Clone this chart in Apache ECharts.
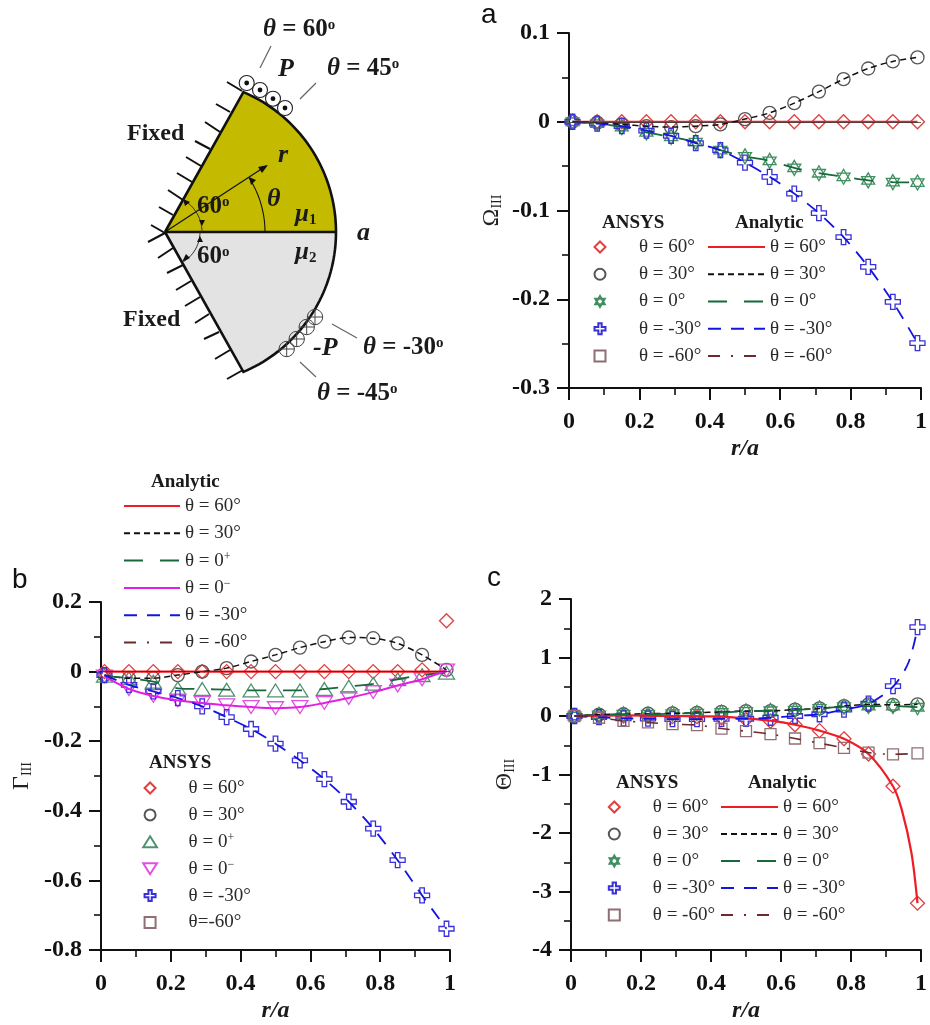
<!DOCTYPE html>
<html><head><meta charset="utf-8">
<style>html,body{margin:0;padding:0;background:#fff}#c{width:930px;height:1025px}</style>
<script src="https://cdn.jsdelivr.net/npm/echarts@6/dist/echarts.min.js"></script>
</head><body><div id="c"></div>
<script>
// ---------- data ----------
const rOverA = [0.01,0.08,0.15,0.22,0.29,0.36,0.43,0.5,0.57,0.64,0.71,0.78,0.85,0.92,0.99];

const omega60  = [0,0,0,0,0,0,0,0,0,0,0,0,0,0,0];
const omega30  = [0,-0.001,-0.003,-0.005,-0.006,-0.005,-0.003,0.003,0.010,0.021,0.034,0.048,0.060,0.068,0.0725];
const omega0   = [0,-0.002,-0.006,-0.012,-0.017,-0.023,-0.032,-0.039,-0.044,-0.052,-0.058,-0.062,-0.066,-0.068,-0.0685];
const omegaM30 = [0,-0.002,-0.005,-0.010,-0.016,-0.024,-0.032,-0.046,-0.062,-0.081,-0.103,-0.130,-0.1635,-0.203,-0.2494];
const omegaM60 = [];

const gamma60      = [0,0,0,0,0,0,0,0,0,0,0,0,0,0.005,0.146];
const gamma60Line  = [0,0,0,0,0,0,0,0,0,0,0,0,0,0,0];
const gamma30      = [-0.01,-0.019,-0.019,-0.01,0,0.01,0.029,0.048,0.069,0.086,0.098,0.096,0.081,0.048,0.005];
const gamma0p      = [-0.012,-0.019,-0.029,-0.048,-0.05,-0.052,-0.054,-0.054,-0.054,-0.05,-0.043,-0.035,-0.022,-0.01,-0.003];
const gamma0m      = [-0.014,-0.05,-0.07,-0.083,-0.09,-0.097,-0.102,-0.105,-0.102,-0.09,-0.076,-0.059,-0.04,-0.022,0.003];
const gammaM30     = [-0.01,-0.038,-0.057,-0.076,-0.1,-0.131,-0.165,-0.207,-0.255,-0.309,-0.374,-0.451,-0.542,-0.643,-0.739];
const gammaM60     = [];

const theta60   = [0,0,0,0,-0.01,-0.01,-0.03,-0.06,-0.09,-0.15,-0.25,-0.39,-0.65,-1.2,-3.2];
const theta30   = [0,0.025,0.03,0.04,0.045,0.055,0.07,0.085,0.085,0.11,0.13,0.17,0.2,0.19,0.2];
const theta0    = [0,0.02,0.03,0.03,0.04,0.05,0.06,0.08,0.09,0.1,0.13,0.16,0.17,0.17,0.15];
const thetaM30  = [0,-0.02,-0.04,-0.045,-0.055,-0.055,-0.05,-0.05,-0.03,0,0.03,0.11,0.21,0.51,1.52];
const thetaM60  = [0,-0.03,-0.085,-0.11,-0.14,-0.155,-0.215,-0.26,-0.31,-0.385,-0.465,-0.545,-0.625,-0.655,-0.64];
const rTheta60Line  = [0.01,0.15,0.29,0.43,0.5,0.57,0.64,0.71,0.78,0.85,0.92,0.945,0.973,0.99];
const theta60Line   = [0,0.01,0,-0.01,-0.04,-0.08,-0.15,-0.25,-0.39,-0.65,-1.2,-1.6,-2.35,-3.2];
const rThetaM30Line = [0.01,0.08,0.15,0.22,0.29,0.36,0.43,0.5,0.57,0.64,0.71,0.78,0.85,0.92,0.964,0.99];
const thetaM30Line  = [0,-0.02,-0.04,-0.045,-0.055,-0.055,-0.05,-0.05,-0.03,0,0.03,0.11,0.21,0.5,0.91,1.5];

// ---------- styles ----------
const SERIF = '"Liberation Serif"';
const SYM = {
  diamond:'path://M10 0L20 10L10 20L0 10Z',
  circle:'path://M20 10A10 10 0 1 1 0 10A10 10 0 1 1 20 10Z',
  star:'path://M10 0L18.66 15L1.34 15Z M10 20L1.34 5L18.66 5Z',
  plus:'path://M7 0H13V7H20V13H13V20H7V13H0V7H7Z',
  square:'path://M0 0H20V20H0Z',
  tri:'path://M10 0L20 16H0Z',
  itri:'path://M0 0H20L10 16Z'
};
const MARK = {
  t60:{sym:SYM.diamond,size:14,color:'#e04040'},
  t30:{sym:SYM.circle,size:13,color:'#555555'},
  t0:{sym:SYM.star,size:15,color:'#3f8f60'},
  t0p:{sym:SYM.tri,size:16,color:'#4f9270'},
  t0m:{sym:SYM.itri,size:16,color:'#e24fe2'},
  tm30:{sym:SYM.plus,size:15,color:'#3a30d8'},
  tm60:{sym:SYM.square,size:11,color:'#8f6f74'}
};
const LINE = {
  t60:{color:'#ee1c25',type:'solid',width:2.2},
  t30:{color:'#111111',type:[6,4],width:1.5},
  t0:{color:'#17693c',type:[19,17],width:1.8},
  t0p:{color:'#17693c',type:[19,17],width:1.8},
  t0m:{color:'#e51ee5',type:'solid',width:2},
  tm30:{color:'#1414e0',type:[13,10],width:1.8},
  tm60:{color:'#6d2a2e',type:[12,11,2,11],width:1.6}
};
const LABEL = {t60:'θ = 60°',t30:'θ = 30°',t0:'θ = 0°',t0p:'θ = 0{s|+}',t0m:'θ = 0{s|−}',tm30:'θ = -30°',tm60:'θ = -60°'};

const grids = [
  {left:569,top:33,width:356,height:355},
  {left:101,top:602,width:349,height:348},
  {left:571,top:599,width:352,height:351}
];
const yAxes = [
  {min:-0.3,max:0.1,interval:0.1,nameGap:65,name:'{a|Ω}{b|III}'},
  {min:-0.8,max:0.2,interval:0.2,nameGap:67,name:'{a|Γ}{b|III}'},
  {min:-4,max:2,interval:1,nameGap:54,name:'{a|Θ}{b|III}'}
];

const series = [];
const legendNames = {};
const zip = (xs,ys)=>ys.map((y,i)=>[xs[i],y]);
function marks(p,key,values,labelOverride){
  const m = MARK[key], name = 'm'+p+key;
  legendNames[name] = labelOverride || LABEL[key];
  series.push({type:'scatter',name,xAxisIndex:p,yAxisIndex:p,symbol:m.sym,symbolSize:m.size,symbolKeepAspect:true,clip:false,
    itemStyle:{color:'transparent',borderColor:m.color,borderWidth:1.3,opacity:1},
    data:zip(rOverA,values)});
  return name;
}
function line(p,key,xs,values,extra){
  const l = LINE[key], name = 'l'+p+key;
  legendNames[name] = LABEL[key];
  series.push(Object.assign({type:'line',name,xAxisIndex:p,yAxisIndex:p,symbol:'none',showSymbol:false,smooth:0.3,clip:false,
    itemStyle:{color:l.color},lineStyle:{color:l.color,type:l.type,width:l.width},data:zip(xs,values)},extra||{}));
  return name;
}
const zeroLine = {markLine:{silent:true,symbol:'none',animation:false,label:{show:false},lineStyle:{color:'#333',width:0.8,type:'solid'},data:[{yAxis:0}]}};

// panel a
const aM = [marks(0,'t60',omega60),marks(0,'t30',omega30),marks(0,'t0',omega0),marks(0,'tm30',omegaM30),marks(0,'tm60',omegaM60)];
const aL = [line(0,'t60',rOverA,omega60,zeroLine),line(0,'t30',rOverA,omega30),line(0,'t0',rOverA,omega0),line(0,'tm30',rOverA,omegaM30),line(0,'tm60',rOverA,omegaM60)];
// panel b
const bM = [marks(1,'t60',gamma60),marks(1,'t30',gamma30),marks(1,'t0p',gamma0p),marks(1,'t0m',gamma0m),marks(1,'tm30',gammaM30),marks(1,'tm60',gammaM60,'θ=-60°')];
const bL = [line(1,'t60',rOverA,gamma60Line,zeroLine),line(1,'t30',rOverA,gamma30),line(1,'t0p',rOverA,gamma0p),line(1,'t0m',rOverA,gamma0m),line(1,'tm30',rOverA,gammaM30),line(1,'tm60',rOverA,gammaM60)];
// panel c
const cM = [marks(2,'t60',theta60),marks(2,'t30',theta30),marks(2,'t0',theta0),marks(2,'tm30',thetaM30),marks(2,'tm60',thetaM60)];
const cL = [line(2,'t60',rTheta60Line,theta60Line),line(2,'t30',rOverA,theta30),line(2,'t0',rOverA,theta0),line(2,'tm30',rThetaM30Line,thetaM30Line),line(2,'tm60',rOverA,thetaM60)];

function legend(names,left,top,itemWidth,itemGap,isLine){
  return {left,top,orient:'vertical',padding:0,itemWidth,itemHeight:isLine?14:11,itemGap,selectedMode:false,data:names,
    formatter:n=>legendNames[n],
    itemStyle:isLine?{opacity:0}:{},
    textStyle:{fontFamily:SERIF,fontSize:19,color:'#2a2a2a',lineHeight:20,rich:{s:{fontFamily:SERIF,fontSize:12,color:'#2a2a2a',verticalAlign:'top',lineHeight:20}}}};
}
const legends = [
  legend(aM,593.5,237,68,7.25,false),
  legend(aL,707,237,57,7.25,true),
  legend(bL,123,496,56,7.3,true),
  legend(bM,142.2,778,67,6.9,false),
  legend(cM,607.8,797,67,7,false),
  legend(cL,720,797,57,7,true)
];

// ---------- schematic and annotations ----------
const wallTicks = [
  [227,82,242,91],[216,104,230,112],[205,122,220,132],[195,141,210,149],[186,157,201,166],[177,173,192,182],[168,190,183,200],[159,207,173,215],[151,225,165,233],
  [148,242,165,233],[158,258,173,248],[167,273,183,265],[176,290,191,281],[185,306,200,297],[195,323,209,314],[204,339,219,332],[215,359,230,350],[227,379,243,370]
];
const leaders = [[271,46,260,68],[316,83,300,99],[332,324,357,338],[300,362,316,377]];
const dotCircles = [[246.7,83],[260,90],[273,98.7],[285,108]];
const crossCircles = [[286.7,349],[296.7,339],[306.7,327],[315,317]];

const g = [];
const seg = (c,stroke,w)=>({type:'line',shape:{x1:c[0],y1:c[1],x2:c[2],y2:c[3]},style:{stroke,lineWidth:w}});
// arc outline points of the schematic edge (angles in degrees, y up)
function arcPts(cx,cy,r,a0,a1,n){
  const out=[];
  for(let i=0;i<=n;i++){const a=(a0+(a1-a0)*i/n)*Math.PI/180;out.push([cx+r*Math.cos(a),cy-r*Math.sin(a)]);}
  return out;
}
const EDGE_CX=184, EDGE_CY=232, EDGE_R=152, EDGE_A=67;
const apex=[165,232];
g.push({type:'polygon',shape:{points:[apex].concat(arcPts(EDGE_CX,EDGE_CY,EDGE_R,EDGE_A,0,40))},style:{fill:'#c4bb00'}});
g.push({type:'polygon',shape:{points:[apex].concat(arcPts(EDGE_CX,EDGE_CY,EDGE_R,0,-EDGE_A,40))},style:{fill:'#e3e3e3'}});
g.push({type:'polyline',shape:{points:[apex].concat(arcPts(EDGE_CX,EDGE_CY,EDGE_R,EDGE_A,-EDGE_A,80)).concat([apex])},style:{fill:null,stroke:'#111',lineWidth:2.6}});
g.push(seg([165,232,336,232],'#111',2.4));
wallTicks.forEach(t=>g.push(seg(t,'#111',2)));
leaders.forEach(t=>g.push(seg(t,'#666',1.2)));
dotCircles.forEach(c=>{
  g.push({type:'circle',shape:{cx:c[0],cy:c[1],r:7.5},style:{fill:'#fff',stroke:'#222',lineWidth:1.1}});
  g.push({type:'circle',shape:{cx:c[0],cy:c[1],r:2.4},style:{fill:'#111'}});
});
crossCircles.forEach(c=>{
  g.push({type:'circle',shape:{cx:c[0],cy:c[1],r:7.7},style:{fill:'none',stroke:'#444',lineWidth:1}});
  g.push(seg([c[0]-7.7,c[1],c[0]+7.7,c[1]],'#444',1));
  g.push(seg([c[0],c[1]-7.7,c[0],c[1]+7.7],'#444',1));
});
// r arrow and angle arcs
const thin=(pts,w,col)=>g.push({type:'polyline',shape:{points:pts},style:{fill:null,stroke:col,lineWidth:w}});
g.push(seg([165,232,266,166],'#111',1.2));
g.push({type:'polygon',shape:{points:[[268,165],[258,167],[262,173]]},style:{fill:'#111'}});
thin(arcPts(165,232,100,0,33,16),1.1,'#111');
g.push({type:'polygon',shape:{points:[[249,177],[256,180],[251,185]]},style:{fill:'#111'}});
thin(arcPts(165,232,37,0,60,14),1,'#333');
g.push({type:'polygon',shape:{points:[[183,199],[190,202],[185,206]]},style:{fill:'#111'}});
g.push({type:'polygon',shape:{points:[[202,226],[199,220],[205,220]]},style:{fill:'#111'}});
thin(arcPts(165,232,35,0,-58,14),1,'#333');
g.push({type:'polygon',shape:{points:[[200,236],[197,242],[203,242]]},style:{fill:'#111'}});
g.push({type:'polygon',shape:{points:[[182,262],[190,258],[186,254]]},style:{fill:'#111'}});

const RICH = {
  i:{font:'italic bold 25px '+SERIF,fill:'#1a1a1a'},
  b:{font:'bold 25px '+SERIF,fill:'#1a1a1a'},
  o:{font:'bold 15px '+SERIF,fill:'#1a1a1a',verticalAlign:'top'},
  sub:{font:'bold 15px '+SERIF,fill:'#1a1a1a',verticalAlign:'bottom'}
};
function txt(text,x,y,font,extra){
  g.push({type:'text',style:Object.assign({text,x,y,font,fill:'#1a1a1a',align:'left',verticalAlign:'middle',rich:RICH},extra||{}),z:10});
}
const B25='bold 25px '+SERIF, BI='italic bold 26px '+SERIF;
txt('{i|θ}{b| = 60}{o|o}',263,30,B25);
txt('{i|θ}{b| = 45}{o|o}',327,69,B25);
txt('{i|θ}{b| = -30}{o|o}',363,348,B25);
txt('{i|θ}{b| = -45}{o|o}',317,394,B25);
txt('P',278,69,BI);
txt('-P',313,348,BI);
txt('Fixed',127,134,'bold 24px '+SERIF);
txt('Fixed',123,320,'bold 24px '+SERIF);
txt('r',278,155,BI);
txt('θ',267,199,BI);
txt('a',357,233,BI);
txt('{b|60}{o|o}',197,207,B25);
txt('{b|60}{o|o}',197,257,B25);
txt('{i|μ}{sub|1}',295,215,B25);
txt('{i|μ}{sub|2}',295,253,B25);
// panel letters
txt('a',481,15,'28px "Liberation Sans"',{fill:'#111'});
txt('b',12,580,'28px "Liberation Sans"',{fill:'#111'});
txt('c',487,578,'28px "Liberation Sans"',{fill:'#111'});
// legend titles
const TT='bold 19px '+SERIF;
txt('ANSYS',602,223,TT); txt('Analytic',735,223,TT);
txt('Analytic',151,482,TT);
txt('ANSYS',149,763,TT);
txt('ANSYS',616,783,TT); txt('Analytic',748,783,TT);

// ---------- option ----------
const chart = echarts.init(document.getElementById('c'),null,{renderer:'canvas'});
const axisCommon = {
  axisLine:{show:true,onZero:false,lineStyle:{color:'#111',width:2}},
  axisTick:{show:true,length:12,lineStyle:{color:'#111',width:2}},
  minorTick:{show:true,splitNumber:2,length:7,lineStyle:{color:'#111',width:1.6}},
  splitLine:{show:false},minorSplitLine:{show:false}
};
chart.setOption({
  animation:false,backgroundColor:'#fff',
  grid:grids,
  xAxis:grids.map((_,i)=>Object.assign({type:'value',gridIndex:i,min:0,max:1,interval:0.2,position:'bottom',
    name:'r/a',nameLocation:'middle',nameGap:61,nameTextStyle:{fontFamily:SERIF,fontWeight:'bold',fontStyle:'italic',fontSize:24,color:'#1a1a1a',verticalAlign:'middle'},
    axisLabel:{margin:22,fontFamily:SERIF,fontWeight:'bold',fontSize:24,color:'#111',hideOverlap:false,showMinLabel:true,showMaxLabel:true}},axisCommon)),
  yAxis:yAxes.map((y,i)=>Object.assign({type:'value',gridIndex:i,min:y.min,max:y.max,interval:y.interval,position:'left',
    name:y.name,nameLocation:'middle',nameRotate:90,nameGap:y.nameGap,
    nameTextStyle:{fontFamily:SERIF,fontSize:24,color:'#222',rich:{a:{fontFamily:SERIF,fontSize:24,color:'#222'},b:{fontFamily:SERIF,fontSize:14,color:'#222',verticalAlign:'bottom',lineHeight:22}}},
    axisLabel:{margin:19,fontFamily:SERIF,fontWeight:'bold',fontSize:24,color:'#111',showMinLabel:true,showMaxLabel:true}},axisCommon)),
  legend:legends,
  series,
  graphic:{elements:g}
});
</script></body></html>
